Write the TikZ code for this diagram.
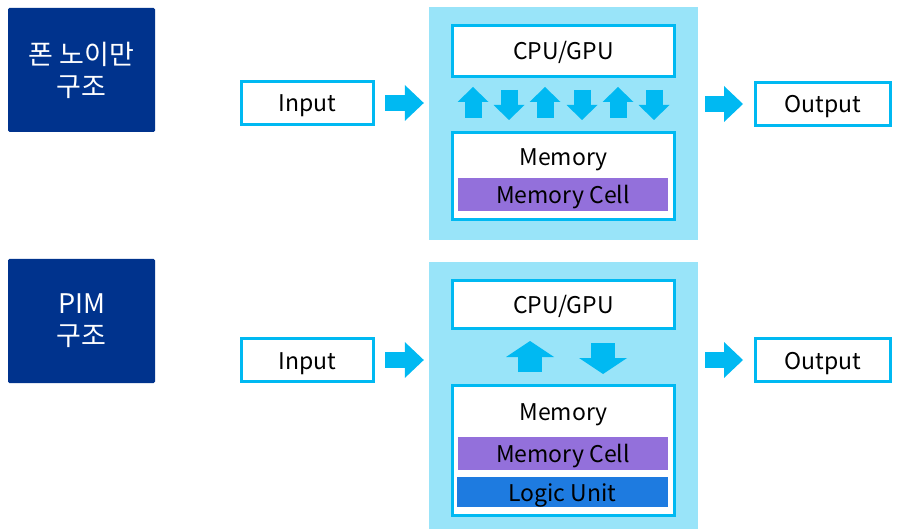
\documentclass[tikz,border=0pt]{standalone}
\usepackage{fontspec}
\setmainfont{Noto Sans CJK KR}
\usetikzlibrary{arrows.meta, calc, positioning}
\definecolor{titleblue}{HTML}{00338D}
\definecolor{panelcyan}{HTML}{99E4F9}
\definecolor{linecyan}{HTML}{00B9F2}
\definecolor{cellpurple}{HTML}{9370DB}
\definecolor{logicblue}{HTML}{1E7BE0}

\begin{document}
\begin{tikzpicture}[x=1pt,y=-1pt,
	title/.style={fill=titleblue,text=white,rounded corners=1.5pt,minimum width=147pt,minimum height=124pt,inner sep=0pt,align=center,font=\fontsize{27}{32}\selectfont},
	lbl/.style={inner sep=0pt,text height=20pt,text depth=2pt,font=\fontsize{23}{28}\selectfont},
	box/.style={lbl,draw=linecyan,line width=3pt,fill=white},
	panel/.style={fill=panelcyan,minimum width=269pt,inner sep=0pt},
	bar/.style={lbl,minimum width=210pt,minimum height=33pt},
	bigarrow/.style={draw=linecyan,line width=16pt,-{Triangle[length=19pt,width=36pt,line width=0pt]}},
	smallarrow/.style={draw=linecyan,line width=17pt,-{Triangle[length=15pt,width=31pt,line width=0pt]}},
	widearrow/.style={draw=linecyan,line width=24pt,-{Triangle[length=16pt,width=48pt,line width=0pt]}}]
	\useasboundingbox (0,0) rectangle (899,529);
	
	\node[title] (T)  at (81.5,70)  {폰 노이만\\구조};
	\node[title] (Td) at (81.5,321) {PIM\\구조};
	
	\node[panel,minimum height=233pt] (P)  at (563.5,123.5) {};
	\node[panel,minimum height=267pt] (Pd) at (563.5,395.5) {};
	
	\node[box,minimum width=132pt,minimum height=43pt] (I)  at (307.5,103) {Input};
	\node[box,minimum width=132pt,minimum height=43pt] (Id) at (307.5,360) {Input};
	\node[box,minimum width=135pt,minimum height=43pt] (O)  at (823,104) {Output};
	\node[box,minimum width=135pt,minimum height=43pt] (Od) at (823,360) {Output};
	
	\node[box,minimum width=222pt,minimum height=51pt] (C)  at (563.5,51)    {CPU/GPU};
	\node[box,minimum width=222pt,minimum height=48pt] (Cd) at (563.5,304.5) {CPU/GPU};
	\node[box,minimum width=222pt,minimum height=87pt]  (M)  at (563.5,176)   {};
	\node[box,minimum width=222pt,minimum height=130pt] (Md) at (563.5,450.5) {};
	
	\node[lbl] (Mt)  at (563.5,157) {Memory};
	\node[lbl] (Mtd) at (563.5,411) {Memory};
	\node[bar,fill=cellpurple] (Mc)  at (563,194.5) {Memory Cell};
	\node[bar,fill=cellpurple] (Mcd) at (563,453.5) {Memory Cell};
	\node[bar,fill=logicblue,minimum width=211pt,minimum height=30pt] (L) at (562.5,492) {Logic Unit};
	
	\draw[bigarrow,shorten <=10pt,shorten >=5pt] (I.east) -- (I.east -| P.west);
	\draw[bigarrow,shorten <=7pt,shorten >=11pt] (O.west -| P.east) -- (O.west);
	\draw[bigarrow,shorten <=10pt,shorten >=5pt] (Id.east) -- (Id.east -| Pd.west);
	\draw[bigarrow,shorten <=7pt,shorten >=11pt] (Od.west -| Pd.east) -- (Od.west);
	
	\foreach \xx in {473,545,618}
		\draw[smallarrow,shorten <=13pt,shorten >=9pt] (M.north -| \xx,0) -- (C.south -| \xx,0);
	\foreach \xx in {509,582,654}
		\draw[smallarrow,shorten <=12pt,shorten >=11pt] (C.south -| \xx,0) -- (M.north -| \xx,0);
	
	\draw[widearrow,shorten <=12pt,shorten >=11pt] (Md.north -| 530,0) -- (Cd.south -| 530,0);
	\draw[widearrow,shorten <=13pt,shorten >=10pt] (Cd.south -| 603,0) -- (Md.north -| 603,0);
\end{tikzpicture}
\end{document}
